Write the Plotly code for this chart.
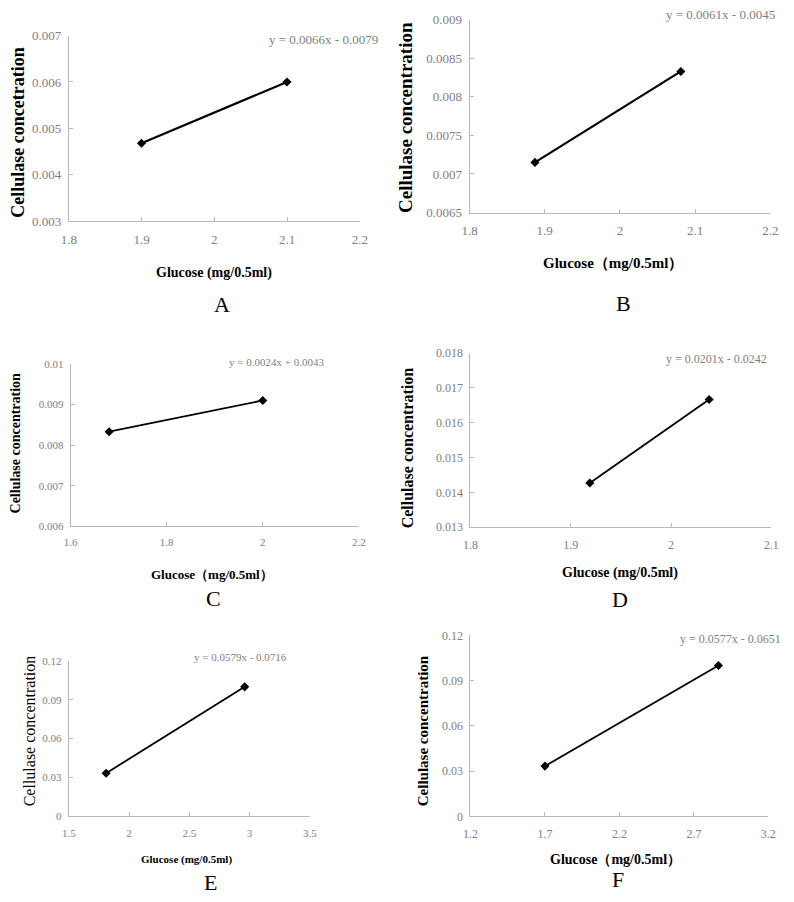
import plotly.graph_objects as go

W, H = 794, 902

# ---------------- data ----------------
labels = ["A", "B", "C", "D", "E", "F"]
x_A = [1.9, 2.1];      y_A = [0.00468, 0.0060]
x_B = [1.887, 2.081];  y_B = [0.00715, 0.00833]
x_C = [1.68, 2.0];     y_C = [0.00833, 0.0091]
x_D = [1.919, 2.038];  y_D = [0.01427, 0.01667]
x_E = [1.81, 2.96];    y_E = [0.0333, 0.1]
x_F = [1.70, 2.865];   y_F = [0.0333, 0.1]

xt_A = [1.8, 1.9, 2.0, 2.1, 2.2]; xl_A = ["1.8", "1.9", "2", "2.1", "2.2"]
yt_A = [0.003, 0.004, 0.005, 0.006, 0.007]; yl_A = ["0.003", "0.004", "0.005", "0.006", "0.007"]
xt_B = [1.8, 1.9, 2.0, 2.1, 2.2]; xl_B = ["1.8", "1.9", "2", "2.1", "2.2"]
yt_B = [0.0065, 0.007, 0.0075, 0.008, 0.0085, 0.009]; yl_B = ["0.0065", "0.007", "0.0075", "0.008", "0.0085", "0.009"]
xt_C = [1.6, 1.8, 2.0, 2.2]; xl_C = ["1.6", "1.8", "2", "2.2"]
yt_C = [0.006, 0.007, 0.008, 0.009, 0.01]; yl_C = ["0.006", "0.007", "0.008", "0.009", "0.01"]
xt_D = [1.8, 1.9, 2.0, 2.1]; xl_D = ["1.8", "1.9", "2", "2.1"]
yt_D = [0.013, 0.014, 0.015, 0.016, 0.017, 0.018]; yl_D = ["0.013", "0.014", "0.015", "0.016", "0.017", "0.018"]
xt_E = [1.5, 2.0, 2.5, 3.0, 3.5]; xl_E = ["1.5", "2", "2.5", "3", "3.5"]
yt_E = [0, 0.03, 0.06, 0.09, 0.12]; yl_E = ["0", "0.03", "0.06", "0.09", "0.12"]
xt_F = [1.2, 1.7, 2.2, 2.7, 3.2]; xl_F = ["1.2", "1.7", "2.2", "2.7", "3.2"]
yt_F = [0, 0.03, 0.06, 0.09, 0.12]; yl_F = ["0", "0.03", "0.06", "0.09", "0.12"]

equations = ["y = 0.0066x - 0.0079", "y = 0.0061x - 0.0045", "y = 0.0024x + 0.0043",
             "y = 0.0201x - 0.0242", "y = 0.0579x - 0.0716", "y = 0.0577x - 0.0651"]
x_titles = ["Glucose (mg/0.5ml)", "Glucose（mg/0.5ml）", "Glucose（mg/0.5ml）",
            "Glucose (mg/0.5ml)", "Glucose (mg/0.5ml)", "Glucose（mg/0.5ml）"]
y_titles = ["Cellulase concetration", "Cellulase concentration", "Cellulase concentration",
            "Cellulase concentration", "Cellulase concentration", "Cellulase concentration"]

xs = [x_A, x_B, x_C, x_D, x_E, x_F]
ys = [y_A, y_B, y_C, y_D, y_E, y_F]
xts = [xt_A, xt_B, xt_C, xt_D, xt_E, xt_F]
xls = [xl_A, xl_B, xl_C, xl_D, xl_E, xl_F]
yts = [yt_A, yt_B, yt_C, yt_D, yt_E, yt_F]
yls = [yl_A, yl_B, yl_C, yl_D, yl_E, yl_F]

# ---------------- layout (pixels) ----------------
# plot box: left, right, top, bottom
boxes = [(62, 359, 29, 218), (471, 778, 13, 209),
         (64, 358, 363, 528), (472, 779, 352, 529),
         (62, 308, 665, 823), (472, 776, 639, 823)]
eq_pos = [(380, 33), (785, 8), (325, 361), (777, 358), (287, 661), (791, 643)]
xt_pos = [(210, 270), (617, 260), (208, 577), (625, 576), (182, 867), (620, 867)]
yt_pos = [(10, 128), (405, 112), (8, 443), (408, 448), (22, 736), (423, 736)]
lab_pos = [(218, 303), (628, 302), (210, 602), (625, 603), (207, 890), (623, 887)]
tick_size = [13, 13, 11, 12, 11, 12]
eq_size = [13, 13, 11, 12, 11, 12]
ytitle_size = [18, 19, 14, 16, 16, 15]
xtitle_size = [14, 15, 13, 14, 11, 14]
line_w = [2.2, 2.2, 1.8, 1.8, 1.8, 1.8]

SERIF = "Liberation Serif"
GREY = "#808080"
AX = "#b8b8b8"

fig = go.Figure()
layout = dict(width=W, height=H, margin=dict(l=0, r=0, t=0, b=0),
              paper_bgcolor="white", plot_bgcolor="white", showlegend=False,
              annotations=[])

def px(x):
    return x / W

def py(y):
    return 1 - y / H

for i in range(6):
    sfx = "" if i == 0 else str(i + 1)
    l, r, t, b = boxes[i]
    xr = [xts[i][0], xts[i][-1]]
    yr = [yts[i][0], yts[i][-1]]
    fig.add_trace(go.Scatter(x=xs[i], y=ys[i], mode="lines+markers",
                             line=dict(color="black", width=line_w[i]),
                             marker=dict(symbol="diamond", size=7, color="black"),
                             xaxis="x" + sfx, yaxis="y" + sfx, cliponaxis=False))
    common = dict(showgrid=False, zeroline=False, showline=True, linecolor=AX, linewidth=1,
                  ticks="inside", ticklen=4, tickcolor=AX,
                  tickfont=dict(family=SERIF, size=tick_size[i], color=GREY))
    layout["xaxis" + sfx] = dict(domain=[px(l), px(r)], range=xr, anchor="y" + sfx,
                                 tickvals=xts[i], ticktext=xls[i], ticklabelstandoff=6, **common)
    layout["yaxis" + sfx] = dict(domain=[py(b), py(t)], range=yr, anchor="x" + sfx,
                                 tickvals=yts[i], ticktext=yls[i], ticklabelstandoff=4, **common)
    ex, ey = eq_pos[i]
    layout["annotations"].append(dict(x=px(ex), y=py(ey), xref="paper", yref="paper",
                                      text=equations[i], showarrow=False, xanchor="right",
                                      yanchor="middle",
                                      font=dict(family=SERIF, size=eq_size[i], color=GREY)))
    tx, ty = xt_pos[i]
    layout["annotations"].append(dict(x=px(tx), y=py(ty), xref="paper", yref="paper",
                                      text="<b>" + x_titles[i] + "</b>", showarrow=False,
                                      xanchor="center", yanchor="middle",
                                      font=dict(family=SERIF, size=xtitle_size[i], color="black")))
    yx, yy = yt_pos[i]
    ytext = y_titles[i] if i == 4 else "<b>" + y_titles[i] + "</b>"
    layout["annotations"].append(dict(x=px(yx), y=py(yy), xref="paper", yref="paper",
                                      text=ytext, showarrow=False, textangle=-90,
                                      xanchor="center", yanchor="middle",
                                      font=dict(family=SERIF, size=ytitle_size[i], color="black")))
    lx, ly = lab_pos[i]
    layout["annotations"].append(dict(x=px(lx), y=py(ly), xref="paper", yref="paper",
                                      text=labels[i], showarrow=False,
                                      xanchor="center", yanchor="middle",
                                      font=dict(family=SERIF, size=22, color="black")))

fig.update_layout(**layout)
fig.write_html("out.html", config={"displayModeBar": False},
               post_script="document.body.style.margin='0';document.body.style.padding='0';")
